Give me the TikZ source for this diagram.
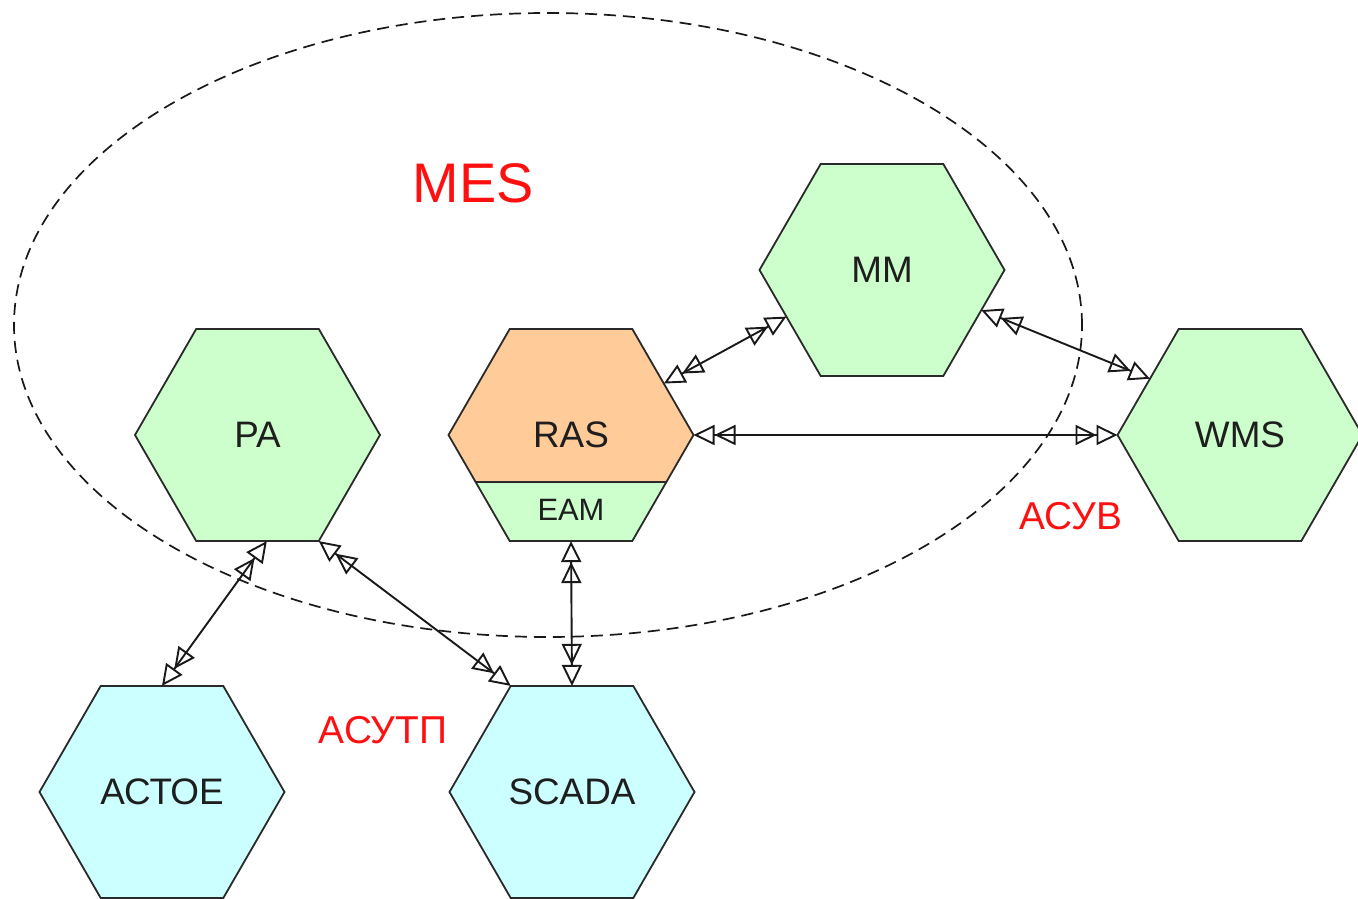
\documentclass[tikz,border=0pt]{standalone}
\usepackage{fontspec}
\setmainfont{Liberation Sans}
\usetikzlibrary{shapes.geometric,arrows.meta}
\definecolor{hexline}{HTML}{2A2A2A}
\definecolor{hexgreen}{HTML}{CCFFCC}
\definecolor{hexorange}{HTML}{FFCC99}
\definecolor{hexcyan}{HTML}{CCFFFF}
\definecolor{txt}{HTML}{1E1E1E}
\definecolor{lblred}{HTML}{FF1010}
\tikzset{
  hexa/.style={regular polygon, regular polygon sides=6, minimum size=245bp,
    inner sep=0pt, outer sep=0pt, draw=hexline, line width=1.8bp,
    text=txt, font=\fontsize{37}{40}\selectfont},
  link/.style={line width=1.9bp, draw=black!90,
    {Triangle[open,length=21bp,width=20bp,sep=0pt]Triangle[open,length=21bp,width=20bp,sep=0pt]}-{Triangle[open,length=21bp,width=20bp,sep=0pt]Triangle[open,length=21bp,width=20bp,sep=0pt]}},
  redlbl/.style={text=lblred, font=\fontsize{39}{42}\selectfont, inner sep=0pt},
}
\begin{document}
\begin{tikzpicture}[x=1bp,y=1bp]
\useasboundingbox (0,0) rectangle (1358,898);

% MES boundary
\draw[line width=1.7bp, dash pattern=on 12bp off 7bp, black!90]
  (548,573) ellipse [x radius=534, y radius=312];
\node[text=lblred, font=\fontsize{56}{60}\selectfont, inner sep=0pt] (mes) at (473,715) {MES};

% systems
\node[hexa, fill=hexgreen] (pa) at (257.5,463) {PA};
\node[hexa, fill=hexorange,
  path picture={
    \fill[hexgreen] (path picture bounding box.south west) rectangle
      ([yshift=59bp]path picture bounding box.south east);
    \draw[hexline, line width=1.8bp] ([yshift=59bp]path picture bounding box.south west) --
      ([yshift=59bp]path picture bounding box.south east);
  }] (ras) at (571,463) {RAS};
\node[text=txt, font=\fontsize{31}{34}\selectfont, inner sep=0pt] (eam) at (571,388) {EAM};
\node[hexa, fill=hexgreen] (mm) at (882,628) {MM};
\node[hexa, fill=hexgreen] (wms) at (1240,463) {WMS};
\node[hexa, fill=hexcyan] (actoe) at (162,106) {АСТОЕ};
\node[hexa, fill=hexcyan] (scada) at (572,106) {SCADA};

% level labels
\node[redlbl] (asuv) at (1071,382) {АСУВ};
\node[redlbl] (asutp) at (383,168) {АСУТП};

% links
\draw[link] (ras.29) -- (mm.206);
\draw[link] (mm.-22) -- (wms.148);
\draw[link] (ras.east) -- (wms.west);
\draw[link] (pa.-85) -- (actoe.north);
\draw[link] (pa.-60) -- (scada.120);
\draw[link] (ras.south) -- (scada.north);
\end{tikzpicture}
\end{document}
